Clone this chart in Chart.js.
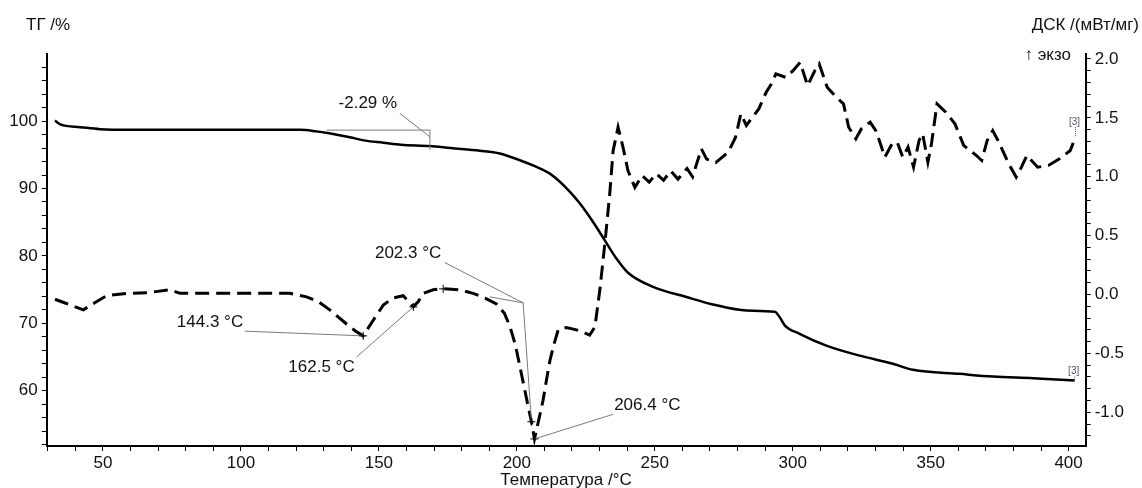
<!DOCTYPE html>
<html>
<head>
<meta charset="utf-8">
<script src="https://cdn.jsdelivr.net/npm/chart.js@4.4.1/dist/chart.umd.min.js"></script>
<style>
  html, body { margin: 0; padding: 0; background: #fff; }
  #wrap { width: 1142px; height: 488px; position: relative; }
</style>
</head>
<body>
<div id="wrap"><canvas id="chart"></canvas></div>
<script>
// TG curve (left axis, %)
const tgTemp = [32.6, 34.5, 41.7, 48.9, 60, 75, 90, 110, 121.4, 127, 132, 139.5, 145, 151.6, 158, 168.5, 176, 186.6, 193.8, 201, 208.3, 212, 215.6, 219, 222.8, 227.7, 231.9, 236.1, 240.3, 249.4, 261.5, 271.1, 283.2, 293.5, 295.3, 297.1, 302.5, 312.2, 324.3, 336.3, 343.6, 360.5, 372.6, 387.1, 402.2];
const tgValue = [100.1, 99.5, 99.1, 98.8, 98.7, 98.7, 98.7, 98.7, 98.7, 98.5, 98.2, 97.6, 97.1, 96.8, 96.5, 96.3, 96.0, 95.6, 95.2, 94.2, 93.0, 92.2, 91.0, 89.6, 87.8, 85.0, 82.3, 79.6, 77.5, 75.4, 73.9, 72.8, 71.9, 71.7, 70.9, 69.7, 68.45, 66.7, 65.2, 64.0, 63.1, 62.5, 62.1, 61.85, 61.5];

// DSC curve (right axis, mW/mg)
const dscTemp = [32.6, 36, 42.9, 47, 51.3, 58.6, 66, 74.3, 77.9, 90, 99.6, 110, 117.8, 123.8, 128, 132.2, 138.3, 141.5, 144.3, 147.9, 151.6, 155, 158.8, 160.8, 162.5, 164.3, 166, 169.7, 173.3, 179, 184.2, 188.5, 192.6, 195.5, 197.5, 199.5, 201.1, 202.8, 204.1, 205.3, 206.4, 207.8, 209.5, 210.8, 212, 213.5, 215, 218, 221.6, 224, 226.4, 228.3, 230.1, 231.9, 233.7, 234.9, 236.7, 238.5, 240.3, 242.8, 245.4, 248, 250.6, 253.2, 255.8, 258.4, 261.7, 263.7, 266.9, 268.8, 272.1, 276.7, 279.3, 281.2, 283.2, 287.7, 290.4, 292.3, 293.9, 297.5, 300.1, 302.7, 305.4, 308, 309.6, 312.5, 315.8, 318.4, 320.3, 322.9, 324.9, 328.1, 330.1, 331.4, 333.4, 336, 337.9, 339.9, 341.8, 343.8, 345.8, 347.1, 349, 350.3, 352.3, 355.5, 358.8, 362, 366.6, 368.5, 370.5, 372.5, 374.4, 378.3, 381, 382.9, 384.9, 388.8, 392.7, 396.7, 400.6, 402.5];
const dscValue = [-0.04, -0.07, -0.13, -0.07, -0.01, 0.01, 0.015, 0.04, 0.01, 0.01, 0.01, 0.01, 0.01, -0.02, -0.06, -0.13, -0.25, -0.31, -0.351, -0.22, -0.09, -0.03, -0.01, -0.06, -0.105, -0.06, 0.01, 0.04, 0.05, 0.04, 0.01, -0.03, -0.08, -0.16, -0.27, -0.43, -0.61, -0.8, -0.95, -1.08, -1.226, -1.08, -0.9, -0.72, -0.56, -0.42, -0.3, -0.28, -0.3, -0.32, -0.345, -0.275, 0.04, 0.43, 0.86, 1.22, 1.42, 1.25, 1.05, 0.91, 1.01, 0.955, 1.025, 0.97, 1.05, 0.98, 1.07, 1.0, 1.237, 1.15, 1.12, 1.21, 1.336, 1.534, 1.435, 1.576, 1.717, 1.788, 1.873, 1.844, 1.9, 1.971, 1.774, 1.9, 1.958, 1.76, 1.675, 1.619, 1.42, 1.322, 1.407, 1.463, 1.392, 1.308, 1.166, 1.28, 1.293, 1.166, 1.251, 1.081, 1.308, 1.364, 1.124, 1.28, 1.619, 1.548, 1.449, 1.265, 1.18, 1.138, 1.308, 1.392, 1.308, 1.11, 0.997, 1.081, 1.18, 1.081, 1.096, 1.152, 1.223, 1.336];

// evaluation annotations, in data coordinates [axis, x, y]
const annotationTexts = [
  ['-2.29 %', 'y', 146.0, 102.67],
  ['144.3 °C', 'y1', 88.8, -0.235],
  ['162.5 °C', 'y1', 129.2, -0.614],
  ['202.3 °C', 'y1', 160.6, 0.353],
  ['206.4 °C', 'y1', 247.3, -0.938]
];
const annotationLines = [
  ['y', 131.1, 98.66, 168.5, 98.66],
  ['y', 168.5, 98.66, 168.5, 95.7],
  ['y', 157.6, 101.14, 168.5, 97.67],
  ['y1', 101.4, -0.311, 144.3, -0.351],
  ['y1', 141.9, -0.531, 162.5, -0.105],
  ['y1', 173.9, 0.271, 202.3, -0.071],
  ['y1', 190.2, -0.02, 202.3, -0.071],
  ['y1', 202.3, -0.071, 205.3, -1.08],
  ['y1', 234.9, -1.017, 206.4, -1.226]
];
const annotationMarks = [
  ['y1', 144.3, -0.351],
  ['y1', 162.5, -0.105],
  ['y1', 173.3, 0.048],
  ['y1', 205.3, -1.08],
  ['y1', 206.4, -1.226]
];

const FONT = '"Liberation Sans", Arial, sans-serif';

function toPoints(xs, ys) {
  return xs.map((x, i) => ({ x: x, y: ys[i] }));
}

const extrasPlugin = {
  id: 'extras',
  afterDatasetsDraw(chart) {
    const ctx = chart.ctx;
    const xs = chart.scales.x;
    ctx.save();
    // gray evaluation lines
    ctx.strokeStyle = '#7a7a7a';
    ctx.lineWidth = 1;
    annotationLines.forEach(([ax, x1, y1, x2, y2]) => {
      const ys = chart.scales[ax];
      ctx.beginPath();
      ctx.moveTo(xs.getPixelForValue(x1), ys.getPixelForValue(y1));
      ctx.lineTo(xs.getPixelForValue(x2), ys.getPixelForValue(y2));
      ctx.stroke();
    });
    // peak crosses
    ctx.strokeStyle = '#000';
    annotationMarks.forEach(([ax, x, y]) => {
      const px = xs.getPixelForValue(x);
      const py = chart.scales[ax].getPixelForValue(y);
      ctx.beginPath();
      ctx.moveTo(px - 4, py); ctx.lineTo(px + 4, py);
      ctx.moveTo(px, py - 4); ctx.lineTo(px, py + 4);
      ctx.stroke();
    });
    // labels
    ctx.fillStyle = '#111';
    ctx.font = '17px ' + FONT;
    ctx.textAlign = 'center';
    ctx.textBaseline = 'middle';
    annotationTexts.forEach(([t, ax, x, y]) => {
      ctx.fillText(t, xs.getPixelForValue(x), chart.scales[ax].getPixelForValue(y));
    });
    // [3] markers at curve ends
    ctx.font = '10px ' + FONT;
    ctx.fillStyle = '#556';
    const ends = [
      ['y1', dscTemp[dscTemp.length - 1], dscValue[dscValue.length - 1], -15],
      ['y', tgTemp[tgTemp.length - 1], tgValue[tgValue.length - 1], -9]
    ];
    ends.forEach(([ax, x, y, dy]) => {
      const px = xs.getPixelForValue(x);
      const py = chart.scales[ax].getPixelForValue(y);
      ctx.fillText('[3]', px - 1, py + dy);
      ctx.strokeStyle = '#556';
      ctx.setLineDash([1, 1]);
      ctx.beginPath();
      ctx.moveTo(px, py + dy + 5); ctx.lineTo(px, py);
      ctx.stroke();
      ctx.setLineDash([]);
    });
    // axis titles
    ctx.fillStyle = '#111';
    ctx.font = '17px ' + FONT;
    ctx.textAlign = 'left';
    ctx.fillText('ТГ /%', 26, 25);
    ctx.textAlign = 'right';
    ctx.fillText('ДСК /(мВт/мг)', 1139, 25);
    ctx.fillText('↑ экзо', 1071, 55);
    ctx.textAlign = 'center';
    ctx.fillText('Температура /°C', 566, 480);
    ctx.restore();
  }
};

const axisCommon = {
  grid: { drawOnChartArea: false, tickLength: 5, color: '#000', tickColor: '#000' },
  border: { display: true, color: '#000', width: 2 }
};

new Chart(document.getElementById('chart'), {
  type: 'line',
  data: {
    datasets: [{
      label: 'ТГ',
      data: toPoints(tgTemp, tgValue),
      yAxisID: 'y',
      borderColor: '#000',
      borderWidth: 2.5,
      pointRadius: 0,
      cubicInterpolationMode: 'monotone'
    }, {
      label: 'ДСК',
      data: toPoints(dscTemp, dscValue),
      yAxisID: 'y1',
      borderColor: '#000',
      borderWidth: 3,
      borderDash: [14, 7],
      pointRadius: 0,
      tension: 0
    }]
  },
  options: {
    responsive: true,
    maintainAspectRatio: false,
    animation: false,
    devicePixelRatio: 1,
    layout: { padding: { top: 54, left: 0, right: 0, bottom: 0 } },
    plugins: { legend: { display: false }, tooltip: { enabled: false } },
    scales: {
      x: {
        ...axisCommon,
        type: 'linear',
        position: 'bottom',
        min: 29.6,
        max: 406.2,
        afterFit: s => { s.height = 42; },
        ticks: {
          stepSize: 10,
          includeBounds: false,
          autoSkip: false,
          maxRotation: 0,
          padding: 2,
          color: '#111',
          font: { size: 17, family: FONT },
          callback: v => (Math.abs(v % 50) < 1e-6 ? String(v) : '')
        }
      },
      y: {
        ...axisCommon,
        type: 'linear',
        position: 'left',
        min: 51.8,
        max: 109.95,
        afterFit: s => { s.width = 46.7; },
        ticks: {
          stepSize: 2,
          includeBounds: false,
          autoSkip: false,
          padding: 4,
          color: '#111',
          font: { size: 17, family: FONT },
          callback: v => (Math.abs(v % 10) < 1e-6 ? String(v) : '')
        }
      },
      y1: {
        ...axisCommon,
        type: 'linear',
        position: 'right',
        min: -1.286,
        max: 2.042,
        afterFit: s => { s.width = 56.3; },
        ticks: {
          stepSize: 0.1,
          includeBounds: false,
          autoSkip: false,
          padding: 4,
          color: '#111',
          font: { size: 17, family: FONT },
          callback: v => (Math.abs(v * 2 - Math.round(v * 2)) < 1e-6 ? v.toFixed(1) : '')
        }
      }
    }
  },
  plugins: [extrasPlugin]
});
</script>
</body>
</html>
